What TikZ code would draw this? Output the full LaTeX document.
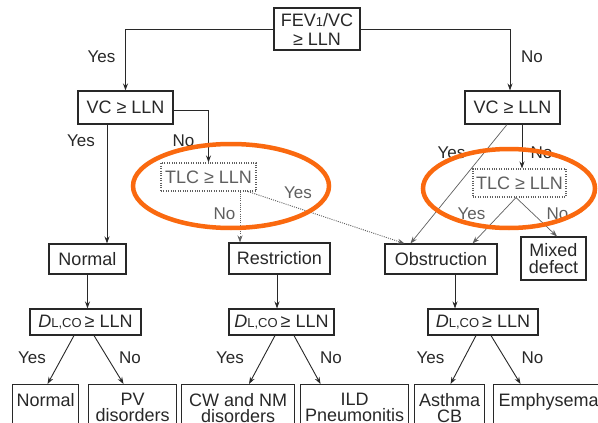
\documentclass[tikz,border=0pt]{standalone}
\usepackage{fontspec}
\setmainfont{Liberation Sans}
\usetikzlibrary{arrows.meta,calc}
\definecolor{ink}{RGB}{40,40,40}
\definecolor{soft}{RGB}{95,95,95}
\definecolor{hilite}{RGB}{250,105,15}
\newcommand\dlco{\textit{D}{\fontsize{13}{13}\selectfont L,CO}\,≥ LLN}
\newcommand\botcell[2]{\parbox[t][48pt][t]{#1}{\centering\fontsize{18}{15.5}\selectfont #2}}
\begin{document}
\begin{tikzpicture}[x=1pt,y=-1pt,
  box/.style={draw=ink, line width=1.1pt, text=ink, inner sep=0pt, font=\fontsize{18}{18}\selectfont, align=center},
  dbox/.style={box, draw=soft, dash pattern=on 1pt off 1.4pt, text=soft},
  bbox/.style={draw=ink, line width=1.1pt, text=ink, inner xsep=0pt, inner ysep=9pt, anchor=north west},
  lab/.style={text=ink, font=\fontsize{17}{17}\selectfont, inner sep=0pt},
  slab/.style={lab, text=soft},
  arr/.style={draw=ink, line width=0.9pt, -{Stealth[length=7pt,width=5pt]}},
  sarr/.style={arr, draw=soft, line width=0.7pt},
  darr/.style={arr, draw=soft, dash pattern=on 1pt off 1.2pt},
  ring/.style={draw=hilite, line width=4.5pt},
]
\clip (0,0) rectangle (598,423);
\fill[white] (0,0) rectangle (598,423);

% boxes
\node[box, minimum width=86pt, minimum height=42pt, font=\fontsize{18}{19}\selectfont] (fev) at (317,29) {FEV{\fontsize{13}{13}\selectfont 1}/VC\\≥ LLN};
\node[box, minimum width=95pt, minimum height=33pt] (vcL) at (125.5,107.5) {VC ≥ LLN};
\node[box, minimum width=95pt, minimum height=33pt] (vcR) at (512.5,107.5) {VC ≥ LLN};
\node[dbox, minimum width=95pt, minimum height=28pt] (tlcL) at (208.5,177) {TLC ≥ LLN};
\node[dbox, minimum width=93pt, minimum height=28pt] (tlcR) at (519.5,183) {TLC ≥ LLN};
\node[box, minimum width=77pt, minimum height=30pt] (nrm) at (87.5,259) {Normal};
\node[box, minimum width=101pt, minimum height=31pt] (res) at (279.5,258.5) {Restriction};
\node[box, minimum width=112pt, minimum height=30pt] (obs) at (441,259) {Obstruction};
\node[box, minimum width=65pt, minimum height=43pt, font=\fontsize{18}{17}\selectfont] (mix) at (553.5,258.5) {Mixed\\defect};
\node[box, minimum width=111pt, minimum height=26pt] (dl1) at (85.5,322) {\dlco};
\node[box, minimum width=105pt, minimum height=26pt] (dl2) at (281.5,322) {\dlco};
\node[box, minimum width=110pt, minimum height=26pt] (dl3) at (483,322) {\dlco};

% bottom boxes (run past the lower edge, as in the reference)
\node[bbox] (b1) at (12,384) {\botcell{66pt}{Normal}};
\node[bbox] (b2) at (88,384) {\botcell{88pt}{PV\\disorders}};
\node[bbox] (b3) at (181,384) {\botcell{113pt}{CW and NM\\disorders}};
\node[bbox] (b4) at (300,384) {\botcell{108pt}{ILD\\Pneumonitis}};
\node[bbox] (b5) at (414,384) {\botcell{70pt}{Asthma\\CB}};
\node[bbox] (b6) at (493,384) {\botcell{110pt}{Emphysema}};

% connectors
\draw[arr] (fev.west) -| (vcL.north);
\draw[arr] (fev.east) -| ([xshift=-2.5pt]vcR.north);
\draw[arr] ([xshift=-18.5pt]vcL.south) -- ([xshift=-18.5pt]vcL.south |- nrm.north);
\draw[arr] ([yshift=-2.5pt]vcL.east) -| (tlcL.north);
\draw[darr] ([xshift=31.5pt]tlcL.south) -- ([xshift=31.5pt]tlcL.south |- res.north);
\draw[darr] ([xshift=39.5pt]tlcL.south) -- ([xshift=20pt]obs.north west);
\draw[sarr] ([xshift=-5.5pt]vcR.south) -- ([xshift=26pt]obs.north west);
\draw[arr] ([xshift=9.5pt]vcR.south) -- ([xshift=9.5pt]vcR.south |- tlcR.north);
\draw[sarr] ([xshift=-3.5pt]tlcR.south) -- ([xshift=-25pt]obs.north east);
\draw[sarr] ([xshift=-3.5pt]tlcR.south) -- ([xshift=3.5pt]mix.north);
\draw[arr] (nrm.south) -- (nrm.south |- dl1.north);
\draw[arr] ([xshift=-2.5pt]res.south) -- ([xshift=-2.5pt]res.south |- dl2.north);
\draw[arr] ([xshift=14pt]obs.south) -- ([xshift=14pt]obs.south |- dl3.north);
\draw[arr] ([xshift=-11.5pt]dl1.south) -- ([xshift=2pt]b1.north);
\draw[arr] ([xshift=8.5pt]dl1.south) -- ([xshift=-9pt]b2.north);
\draw[arr] ([xshift=-6.5pt]dl2.south) -- ([xshift=11pt]b3.north);
\draw[arr] ([xshift=12.5pt]dl2.south) -- ([xshift=-34pt]b4.north);
\draw[arr] ([xshift=-7pt]dl3.south) -- ([xshift=1pt]b5.north);
\draw[arr] ([xshift=8pt]dl3.south) -- ([xshift=-28pt]b6.north);

% labels
\node[lab] (l1) at (101.5,57) {Yes};
\node[lab] (l2) at (532,57) {No};
\node[lab] (l3) at (81,141) {Yes};
\node[lab] (l4) at (183.5,141) {No};
\node[slab] (l5) at (224.5,214) {No};
\node[slab] (l6) at (298,192.5) {Yes};
\node[lab] (l7) at (451.5,152.5) {Yes};
\node[lab] (l8) at (541.5,152.5) {No};
\node[slab] (l9) at (471.5,214) {Yes};
\node[slab] (l10) at (557.5,214) {No};
\node[lab] (l11) at (32,358) {Yes};
\node[lab] (l12) at (130,358) {No};
\node[lab] (l13) at (230,358) {Yes};
\node[lab] (l14) at (331,358) {No};
\node[lab] (l15) at (430.5,358) {Yes};
\node[lab] (l16) at (532.5,358) {No};

% highlight rings
\draw[ring] (231,186) ellipse [x radius=98pt, y radius=42pt];
\draw[ring] (509,188.5) ellipse [x radius=86pt, y radius=39.5pt];
\end{tikzpicture}
\end{document}
